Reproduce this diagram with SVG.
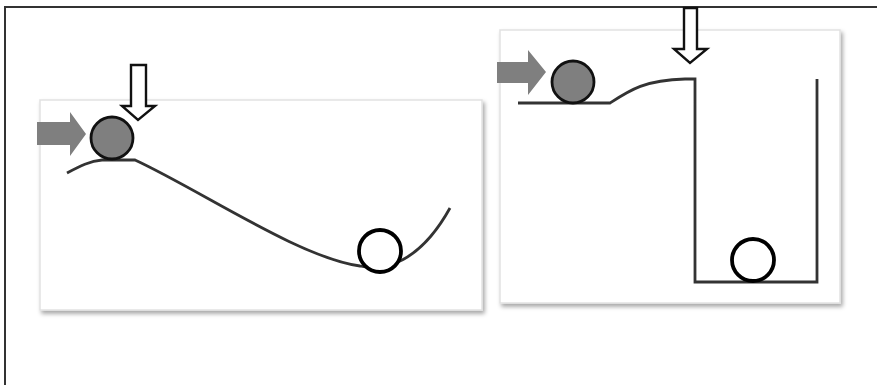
<svg xmlns="http://www.w3.org/2000/svg" width="877" height="385" viewBox="0 0 877 385">
  <defs>
    <filter id="shadow" x="-5%" y="-5%" width="112%" height="115%">
      <feDropShadow dx="2" dy="3" stdDeviation="2" flood-color="#000" flood-opacity="0.35"/>
    </filter>
  </defs>
  <style>
    .panel { fill: #fff; stroke: #e2e2e2; stroke-width: 1.5; filter: url(#shadow); }
    .track { fill: none; stroke: #333; stroke-width: 2.8; stroke-linejoin: miter; }
    .ball-gray { fill: #7f7f7f; stroke: #111; stroke-width: 2.8; }
    .ball-white { fill: #fff; stroke: #000; stroke-width: 3.8; }
    .push { fill: #7f7f7f; stroke: none; }
    .drop { fill: #fff; stroke: #111; stroke-width: 2.4; stroke-linejoin: miter; }
    .frame { fill: none; stroke: #333; stroke-width: 2; }
  </style>
  <rect width="877" height="385" fill="#fff"/>
  <path class="frame" d="M5,390 L5,7 L880,7"/>

  <g id="panel-left">
    <rect class="panel" x="40" y="100" width="442" height="210"/>
  </g>
  <g id="panel-right">
    <rect class="panel" x="500" y="30" width="340" height="273"/>
  </g>

  <g id="connectors">
    <path id="track-left" class="track" d="M67,173 C80,166 90,161 102,160 L135,160 C200,190 300,258 360,266 C385,272 420,262 450,208"/>
    <path id="track-right" class="track" d="M518,103 L610,103 C630,90 645,80 685,79 L695,79 L695,282 L817,282 L817,79"/>
  </g>

  <g id="push-left">
    <polygon class="push" points="37,122 70,122 70,112 86,134 70,156 70,145 37,145"/>
  </g>
  <g id="ball-left-top">
    <circle class="ball-gray" cx="112" cy="138" r="21"/>
  </g>
  <g id="drop-left">
    <polygon class="drop" points="131,65 146,65 146,106 155,106 138,120 122,106 131,106"/>
  </g>
  <g id="ball-left-bottom">
    <circle class="ball-white" cx="380" cy="251" r="21"/>
  </g>

  <g id="push-right">
    <polygon class="push" points="497,62 528,62 528,50 546,72 528,95 528,83 497,83"/>
  </g>
  <g id="ball-right-top">
    <circle class="ball-gray" cx="573" cy="82" r="21"/>
  </g>
  <g id="drop-right">
    <polygon class="drop" points="684,8 697,8 697,49 707,49 690,63 674,49 684,49"/>
  </g>
  <g id="ball-right-bottom">
    <circle class="ball-white" cx="753" cy="260" r="21"/>
  </g>
</svg>
